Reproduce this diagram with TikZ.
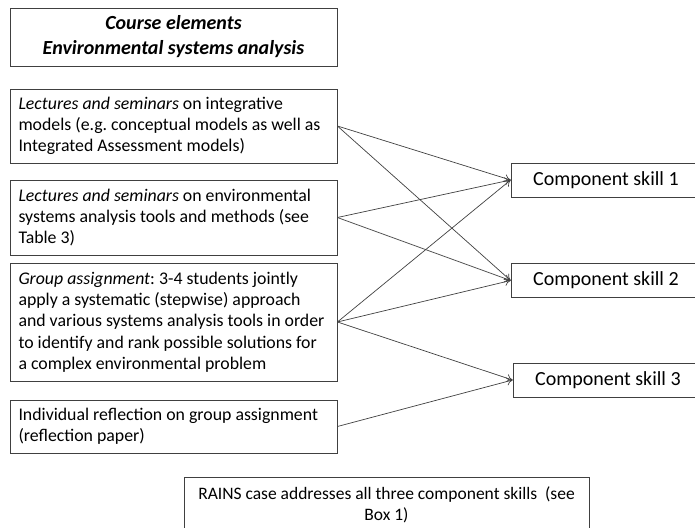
\documentclass[tikz,border=0pt]{standalone}
\usepackage{fontspec}
\setmainfont{Carlito}
\usetikzlibrary{arrows.meta}
\definecolor{edge}{HTML}{404040}
\newcommand{\oneline}[1]{\mbox{#1}}
\newcommand{\lowered}[1]{\raisebox{-3pt}{#1}}
\begin{document}
\frenchspacing
\begin{tikzpicture}[x=1pt,y=-1pt,
  lbox/.style={draw=edge, line width=0.8pt, inner xsep=8.5pt, inner ysep=2pt,
    text width=310pt, minimum width=327pt, align=flush left,
    font=\fontsize{17.8}{21.3}\selectfont\frenchspacing},
  titlebox/.style={draw=edge, line width=0.8pt, minimum width=327pt, minimum height=58pt,
    align=center, font=\fontsize{20}{25}\selectfont\bfseries\itshape},
  skillbox/.style={draw=edge, line width=0.8pt, minimum width=190pt, minimum height=34pt,
    font=\fontsize{20}{22}\selectfont},
  rainsbox/.style={draw=edge, line width=0.8pt, minimum width=405pt, minimum height=56pt,
    align=center, font=\fontsize{17.5}{21.5}\selectfont},
  link/.style={draw=edge, line width=0.7pt, -{To[length=6pt,width=8pt]}}]
\useasboundingbox (0,0) rectangle (695,527);
\clip (0,0) rectangle (695,527);
\node[titlebox] (title) at (173.5,37) {\lowered{Course elements}\\\lowered{Environmental systems analysis}};
\node[lbox, minimum height=74pt] (a) at (173.5,126)
  {\oneline{\textit{Lectures and seminars} on integrative}\\
   \oneline{models (e.g. conceptual models as well as}\\
   \oneline{Integrated Assessment models)}};
\node[lbox, minimum height=75pt] (b) at (173.5,217.5)
  {\oneline{\textit{Lectures and seminars} on environmental}\\
   \oneline{systems analysis tools and methods (see}\\
   \oneline{Table 3)}};
\node[lbox, minimum height=118pt] (c) at (173.5,322)
  {\oneline{\textit{Group assignment}: 3-4 students jointly}\\
   \oneline{apply a systematic (stepwise) approach}\\
   \oneline{and various systems analysis tools in order}\\
   \oneline{to identify and rank possible solutions for}\\
   \oneline{a complex environmental problem}};
\node[lbox, minimum height=53pt] (d) at (173.5,426.5)
  {\oneline{Individual reflection on group assignment}\\
   \oneline{(reflection paper)}};
\node[skillbox] (s1) at (606,180) {Component skill 1};
\node[skillbox] (s2) at (606,280.5) {Component skill 2};
\node[skillbox] (s3) at (608,380) {Component skill 3};
\node[rainsbox] (rains) at (386.5,505) {RAINS case addresses all three component skills\ \ (see\\Box 1)};
\draw[link] (a.east) -- (s1.west);
\draw[link] (a.east) -- (s2.west);
\draw[link] (b.east) -- (s1.west);
\draw[link] (b.east) -- (s2.west);
\draw[link] (c.east) -- (s1.west);
\draw[link] (c.east) -- (s2.west);
\draw[link] (c.east) -- (s3.west);
\draw[link] (d.east) -- (s3.west);
\end{tikzpicture}
\end{document}
